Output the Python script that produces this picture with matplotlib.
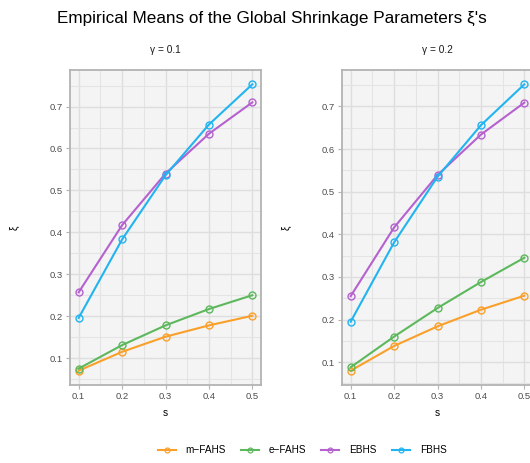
import numpy as np
import matplotlib.pyplot as plt
from matplotlib.lines import Line2D

plt.rcParams['font.family'] = ['Liberation Sans', 'DejaVu Sans']

s = [0.1, 0.2, 0.3, 0.4, 0.5]
methods = ['m\u2212FAHS', 'e\u2212FAHS', 'EBHS', 'FBHS']
colors = ['#FAA02A', '#5DB85D', '#B561CF', '#22B4F0']

# gamma = 0.1
g1_mfahs = [0.070, 0.115, 0.151, 0.178, 0.201]
g1_efahs = [0.075, 0.131, 0.178, 0.217, 0.250]
g1_ebhs = [0.257, 0.417, 0.540, 0.635, 0.710]
g1_fbhs = [0.196, 0.383, 0.536, 0.657, 0.753]
# gamma = 0.2
g2_mfahs = [0.080, 0.138, 0.184, 0.223, 0.256]
g2_efahs = [0.088, 0.160, 0.227, 0.288, 0.345]
g2_ebhs = [0.255, 0.416, 0.539, 0.634, 0.709]
g2_fbhs = [0.195, 0.381, 0.535, 0.656, 0.752]

panels = [('\u03b3 = 0.1', [g1_mfahs, g1_efahs, g1_ebhs, g1_fbhs]),
          ('\u03b3 = 0.2', [g2_mfahs, g2_efahs, g2_ebhs, g2_fbhs])]

fig = plt.figure(figsize=(5.3, 4.63), dpi=100)
W, H = 530, 463
boxes = [(70, 70, 191, 315), (342, 70, 191, 315)]

for (title, series), (x0, y0, w, h) in zip(panels, boxes):
    ax = fig.add_axes([x0 / W, 1 - (y0 + h) / H, w / W, h / H])
    ax.set_facecolor('#F4F4F4')
    for yv, c in zip(series, colors):
        ax.plot(s, yv, color=c, lw=1.5, marker='o', ms=5, mfc='none',
                mec=c, mew=1.0, zorder=3)
    allv = np.concatenate(series)
    lo, hi = allv.min(), allv.max()
    pad = 0.05 * (hi - lo)
    ax.set_ylim(lo - pad, hi + pad)
    ax.set_xlim(0.08, 0.52)
    ax.set_xticks(s)
    ax.set_xticklabels(['0.1', '0.2', '0.3', '0.4', '0.5'])
    ax.set_yticks([0.1, 0.2, 0.3, 0.4, 0.5, 0.6, 0.7])
    ax.set_xticks([0.15, 0.25, 0.35, 0.45], minor=True)
    ax.set_yticks(np.arange(0.05, 0.80, 0.1), minor=True)
    ax.grid(which='major', color='#DEDEDE', lw=1.0)
    ax.grid(which='minor', color='#E4E4E4', lw=0.8)
    ax.set_axisbelow(True)
    for sp in ax.spines.values():
        sp.set_color('#B3B3B3')
        sp.set_linewidth(1.3)
    ax.tick_params(which='major', length=3, color='#B3B3B3', labelsize=6.8,
                   labelcolor='#4D4D4D', pad=2)
    ax.tick_params(which='minor', length=0)
    ax.set_title(title, fontsize=7.3, pad=12, color='#1A1A1A')
    ax.set_xlabel('s', fontsize=7.3, labelpad=5)
    ax.set_ylabel('\u03be', fontsize=7.3, labelpad=22)

fig.text(271.5 / W, 1 - 18 / H, "Empirical Means of the Global Shrinkage Parameters \u03be's",
         ha='center', va='center', fontsize=12.3)

handles = [Line2D([], [], color=c, lw=1.5, marker='o', ms=3.5, mfc='none', mec=c, mew=0.9)
           for c in colors]
fig.legend(handles, methods, loc='center', bbox_to_anchor=(0.57, 1 - 450 / H), ncol=4,
           frameon=False, fontsize=7.2, handlelength=1.8, columnspacing=1.5,
           handletextpad=1.0)

fig.savefig('out.png', dpi=100)
